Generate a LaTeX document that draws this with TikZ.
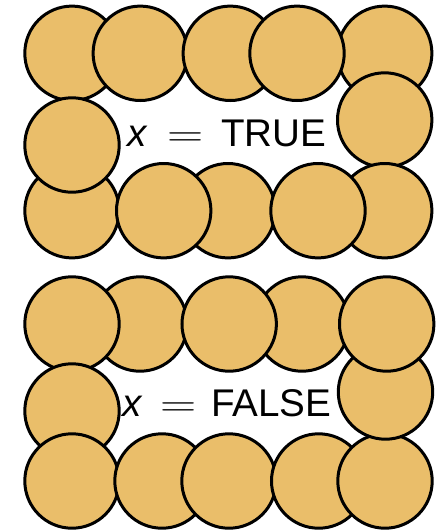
\documentclass[tikz,border=0pt]{standalone}
\usepackage{graphicx}
\usepackage{fontspec}
\newfontfamily\labelfont{Liberation Sans}
\definecolor{cointan}{RGB}{234,190,106}
\tikzset{
  coin/.style={circle, draw=black, line width=3pt, fill=cointan, minimum size=94.4pt, inner sep=0pt},
  lbl/.style={anchor=base west, inner sep=0pt, font=\fontsize{38.6}{39}\selectfont\labelfont}
}
\newcommand{\bigeq}{\scalebox{1.3}[1]{\rmfamily =}}
\begin{document}
\begin{tikzpicture}[x=1pt,y=-1pt]
\useasboundingbox (0,0) rectangle (436,531);
% ---- top panel (TRUE) ----
\node[coin] (a5) at (384.7,53.3) {};
\node[coin] (a1) at (72,53.3) {};
\node[coin] (a2) at (140.3,53.3) {};
\node[coin] (a3) at (230.3,53.3) {};
\node[coin] (a4) at (297,53.3) {};
\node[coin] (ar) at (384.7,120) {};
\node[coin] (b5) at (384.7,210.7) {};
\node[coin] (b3) at (228,210.7) {};
\node[coin] (b4) at (318,210.7) {};
\node[coin] (b1) at (72,210.7) {};
\node[coin] (b2) at (163.7,210.7) {};
\node[coin] (al) at (72,145) {};
\node[lbl] (tt) at (127.5,146.5) {\textit{x}\hspace{19.5pt}\bigeq\hspace{17.5pt}TRUE};
% ---- bottom panel (FALSE) ----
\node[coin] (c2) at (140,324) {};
\node[coin] (c4) at (302,324) {};
\node[coin] (c3) at (229.2,324) {};
\node[coin] (c1) at (72,324) {};
\node[coin] (cl) at (72,411) {};
\node[coin] (d1) at (72,481) {};
\node[coin] (d2) at (162,481) {};
\node[coin] (d3) at (229,481) {};
\node[coin] (d4) at (318.7,481) {};
\node[coin] (d5) at (385,481) {};
\node[coin] (cr) at (385.5,392) {};
\node[coin] (c5) at (386.7,324) {};
\node[lbl] (ff) at (122.5,416) {\textit{x}\hspace{17pt}\bigeq\hspace{15pt}FALSE};
\end{tikzpicture}
\end{document}
